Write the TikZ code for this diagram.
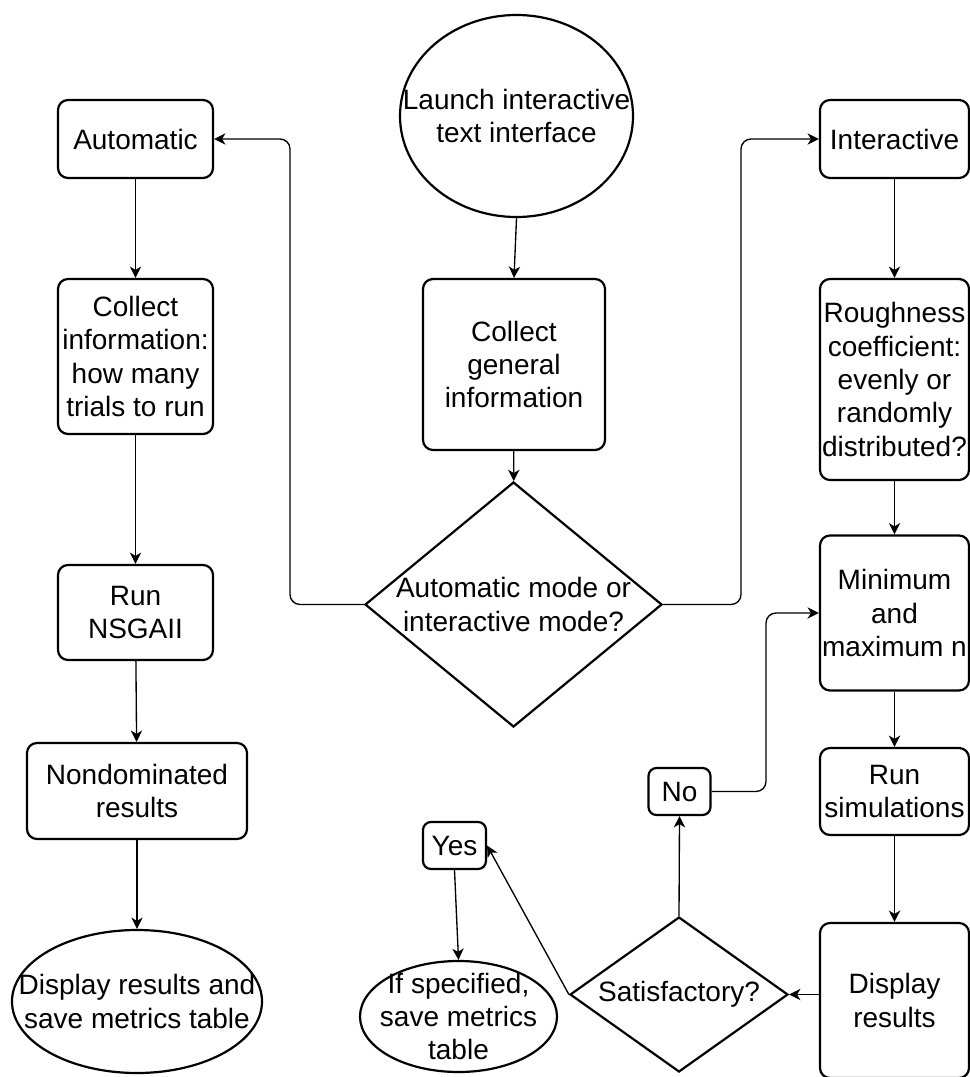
\documentclass[tikz,border=0pt]{standalone}
\usepackage{fontspec}
\setmainfont{Liberation Sans}
\usetikzlibrary{arrows.meta,shapes.geometric}
\newdimen\pxu \pxu=0.75pt
\begin{document}
\begin{tikzpicture}[x=0.75pt,y=-0.75pt,
  every node/.style={font=\fontsize{21}{25}\selectfont, text=black},
  box/.style={draw, line width=1.65pt, rounded corners=7.5pt, align=center, inner sep=0pt},
  oval/.style={draw, ellipse, line width=1.65pt, inner sep=0pt},
  dia/.style={draw, diamond, line width=1.65pt, inner sep=0pt},
  conn/.style={line width=1pt, -{Stealth[length=8.5pt,width=8.5pt,inset=2.5pt]}},
]
\useasboundingbox (0,0) rectangle (970,1077);
\clip (0,0) rectangle (970,1077);
% left column
\node[box, minimum width=155\pxu, minimum height=78\pxu] (auto) at (135.5,139) {Automatic};
\node[box, minimum width=155\pxu, minimum height=155\pxu] (colinfo) at (135.5,356.5) {Collect\\information:\\how many\\trials to run};
\node[box, minimum width=155\pxu, minimum height=95\pxu] (nsga) at (135.5,612.5) {Run\\NSGAII};
\node[box, minimum width=220\pxu, minimum height=96\pxu] (nondom) at (137,791) {Nondominated\\results};
\node[oval, minimum width=250\pxu, minimum height=143\pxu,
  label={[align=center]center:Display results and\\save metrics table}] (dispres) at (137,1001.5) {};
% middle column
\node[oval, minimum width=233\pxu, minimum height=202\pxu,
  label={[align=center]center:Launch interactive\\text interface}] (launch) at (516.5,116) {};
\node[box, minimum width=182\pxu, minimum height=171\pxu] (colgen) at (514,364.5) {Collect\\general\\information};
\node[dia, minimum width=297\pxu, minimum height=245\pxu,
  label={[align=center]center:Automatic mode or\\interactive mode?}] (mode) at (513.5,604.5) {};
\node[box, rounded corners=6pt, minimum width=63\pxu, minimum height=47\pxu] (yes) at (454.5,845.5) {Yes};
\node[oval, minimum width=197\pxu, minimum height=111\pxu,
  label={[align=center]center:If specified,\\save metrics\\table}] (ifspec) at (458.5,1016.5) {};
\node[dia, minimum width=218\pxu, minimum height=155\pxu,
  label={center:Satisfactory?}] (sat) at (679,994.5) {};
\node[box, rounded corners=6pt, minimum width=62\pxu, minimum height=47\pxu] (no) at (679.5,791.5) {No};
% right column
\node[box, minimum width=149\pxu, minimum height=78\pxu] (inter) at (894.5,139) {Interactive};
\node[box, minimum width=149\pxu, minimum height=201\pxu] (rough) at (894.5,379.5) {Roughness\\coefficient:\\evenly or\\randomly\\distributed?};
\node[box, minimum width=149\pxu, minimum height=155\pxu] (minmax) at (894.5,613) {Minimum\\and\\maximum n};
\node[box, minimum width=149\pxu, minimum height=87\pxu] (runsim) at (894.5,791.5) {Run\\simulations};
\node[box, minimum width=149\pxu, minimum height=155\pxu] (disp2) at (894.5,1000.5) {Display\\results};
% helper coordinates
\coordinate (c1) at (290,400);
\coordinate (c2) at (741,400);
\coordinate (c3) at (766,700);
% connectors
\draw[conn] (auto) -- (colinfo);
\draw[conn] (colinfo) -- (nsga);
\draw[conn] (nsga) -- (nondom);
\draw[conn] (nondom) -- (dispres);
\draw[conn] (launch.south) -- (colgen.north);
\draw[conn] (colgen) -- (mode);
\draw[conn, rounded corners=7.5pt] (mode.west) -| (c1) |- (auto.east);
\draw[conn, rounded corners=7.5pt] (mode.east) -| (c2) |- (inter.west);
\draw[conn] (inter) -- (rough);
\draw[conn] (rough) -- (minmax);
\draw[conn] (minmax) -- (runsim);
\draw[conn] (runsim) -- (disp2);
\draw[conn] (sat.east -| disp2.west) -- (sat.east);
\draw[conn] (sat.north) -- (no.south);
\draw[conn, rounded corners=7.5pt] (no.east) -| (c3) |- (minmax.west);
\draw[conn] (sat.west) -- (yes.east);
\draw[conn] (yes.south) -- (ifspec.north);
\end{tikzpicture}
\end{document}
